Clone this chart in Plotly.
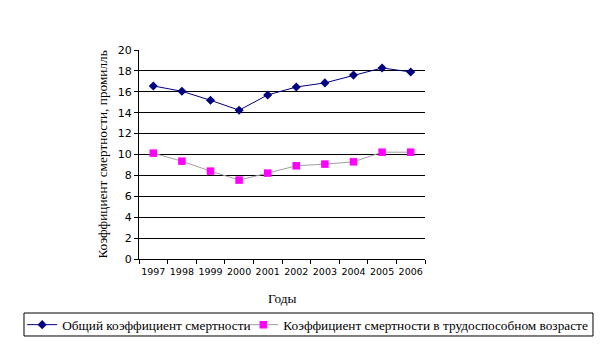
import plotly.graph_objects as go

years = ["1997", "1998", "1999", "2000", "2001", "2002", "2003", "2004", "2005", "2006"]
total_rate = [16.56, 16.05, 15.19, 14.24, 15.7, 16.46, 16.85, 17.6, 18.28, 17.9]
working_age_rate = [10.13, 9.36, 8.41, 7.55, 8.22, 8.92, 9.08, 9.3, 10.22, 10.22]
y_ticks = [0, 2, 4, 6, 8, 10, 12, 14, 16, 18, 20]
grid_ticks = [2, 4, 6, 8, 10, 12, 14, 16, 18]

serif = "Liberation Serif, Times New Roman, serif"
sans = "DejaVu Sans, Verdana, sans-serif"
legend_font = dict(family=serif, size=13.3, color="black")

fig = go.Figure()
fig.add_trace(go.Scatter(
    x=years, y=total_rate, mode="lines+markers",
    name="Общий коэффициент смертности",
    line=dict(color="#000080", width=1),
    marker=dict(symbol="diamond", size=7, color="#000080"),
    legend="legend",
))
fig.add_trace(go.Scatter(
    x=years, y=working_age_rate, mode="lines+markers",
    name="Коэффициент смертности в трудоспособном возрасте",
    line=dict(color="#a0a0a0", width=1),
    marker=dict(symbol="square", size=7.5, color="#ff00ff"),
    legend="legend2",
))
# invisible trace carrying the gridline axis
fig.add_trace(go.Scatter(x=years, y=[None] * len(years), yaxis="y2",
                         showlegend=False, hoverinfo="skip"))

fig.update_layout(
    width=616, height=346,
    margin=dict(l=139, r=191, t=50, b=87, autoexpand=False),
    paper_bgcolor="white", plot_bgcolor="white",
    showlegend=True,
    xaxis=dict(
        type="category", range=[-0.5, 9.5], automargin=False,
        tickson="boundaries", ticks="outside", ticklen=4, tickcolor="black",
        tickangle=0, ticklabelstandoff=4,
        showline=True, linecolor="black", linewidth=1,
        showgrid=False, zeroline=False,
        tickfont=dict(family=sans, size=9.5, color="black"),
    ),
    yaxis=dict(
        range=[0, 20], tickvals=y_ticks, automargin=False,
        ticks="outside", ticklen=4, tickcolor="black",
        showline=True, linecolor="black", linewidth=1,
        showgrid=False, zeroline=False,
        tickfont=dict(family=sans, size=11, color="black"),
    ),
    yaxis2=dict(
        overlaying="y", range=[0, 20], tickvals=grid_ticks, automargin=False,
        showticklabels=False, showgrid=True, gridcolor="black", gridwidth=1,
        zeroline=False, showline=False,
    ),
    legend=dict(
        orientation="h", xref="container", yref="container",
        x=0.036, y=0.0607, xanchor="left", yanchor="middle",
        borderwidth=0, bgcolor="rgba(0,0,0,0)", font=legend_font,
    ),
    legend2=dict(
        orientation="h", xref="container", yref="container",
        x=0.395, y=0.0607, xanchor="left", yanchor="middle",
        borderwidth=0, bgcolor="rgba(0,0,0,0)", font=legend_font,
    ),
    shapes=[
        dict(type="rect", xref="paper", yref="paper",
             x0=-0.4021, x1=1.5874, y0=-0.3684, y1=-0.2584,
             line=dict(color="black", width=1), fillcolor="rgba(0,0,0,0)"),
    ],
    annotations=[
        dict(text="Годы", xref="paper", yref="paper", x=0.5, y=-0.191,
             xanchor="center", yanchor="middle", showarrow=False,
             font=dict(family=serif, size=13.3, color="black")),
        dict(text="Коэффициент смертности, промилль", xref="paper", yref="paper",
             x=-0.129, y=0.5, xanchor="center", yanchor="middle", textangle=-90,
             showarrow=False, font=dict(family=serif, size=13.3, color="black")),
    ],
)

fig.write_html("out.html")
